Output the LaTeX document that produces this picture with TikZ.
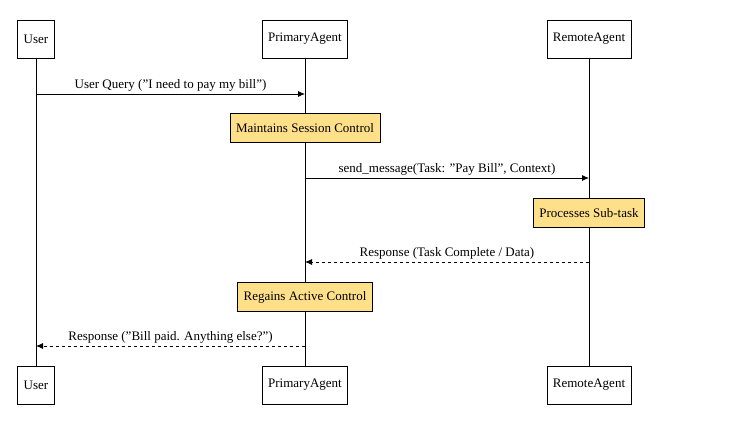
\documentclass[tikz,border=0pt]{standalone}
\usepackage{fontspec}
\setmainfont{Liberation Serif}
\usetikzlibrary{arrows.meta}
\definecolor{notefill}{HTML}{FFE08A}
\begin{document}
\begin{tikzpicture}[x=1pt,y=-1pt,font=\fontsize{13}{15}\selectfont,
 actor/.style={draw,thick,fill=white,minimum height=38pt,inner sep=6pt},
 note/.style={draw,fill=notefill,minimum height=29pt,inner sep=6pt},
 msg/.style={thick,-{Latex[length=7pt,width=6pt]}},
 ret/.style={msg,dashed},
 lbl/.style={above,inner sep=2pt}]
\useasboundingbox (0,0) rectangle (751,423);
\node[actor] (u1) at (36,39) {User};
\node[actor] (p1) at (305,39) {PrimaryAgent};
\node[actor] (r1) at (589,39) {RemoteAgent};
\node[actor] (u2) at (36,385) {User};
\node[actor] (p2) at (305,385) {PrimaryAgent};
\node[actor] (r2) at (589,385) {RemoteAgent};
\draw[thick] (u1) -- (u2);
\draw[thick] (p1) -- (p2);
\draw[thick] (r1) -- (r2);
\coordinate (a1) at (36,94); \coordinate (b1) at (305,94);
\draw[msg] (a1) -- node[lbl]{User Query ("I need to pay my bill")} (b1);
\node[note] (n1) at (305,128) {Maintains Session Control};
\coordinate (a2) at (305,178); \coordinate (b2) at (589,178);
\draw[msg] (a2) -- node[lbl]{send\_message(Task: "Pay Bill", Context)} (b2);
\node[note] (n2) at (589,213) {Processes Sub-task};
\coordinate (a3) at (589,262); \coordinate (b3) at (305,262);
\draw[ret] (a3) -- node[lbl]{Response (Task Complete / Data)} (b3);
\node[note] (n3) at (305,297) {Regains Active Control};
\coordinate (a4) at (305,346); \coordinate (b4) at (36,346);
\draw[ret] (a4) -- node[lbl]{Response ("Bill paid. Anything else?")} (b4);
\end{tikzpicture}
\end{document}
